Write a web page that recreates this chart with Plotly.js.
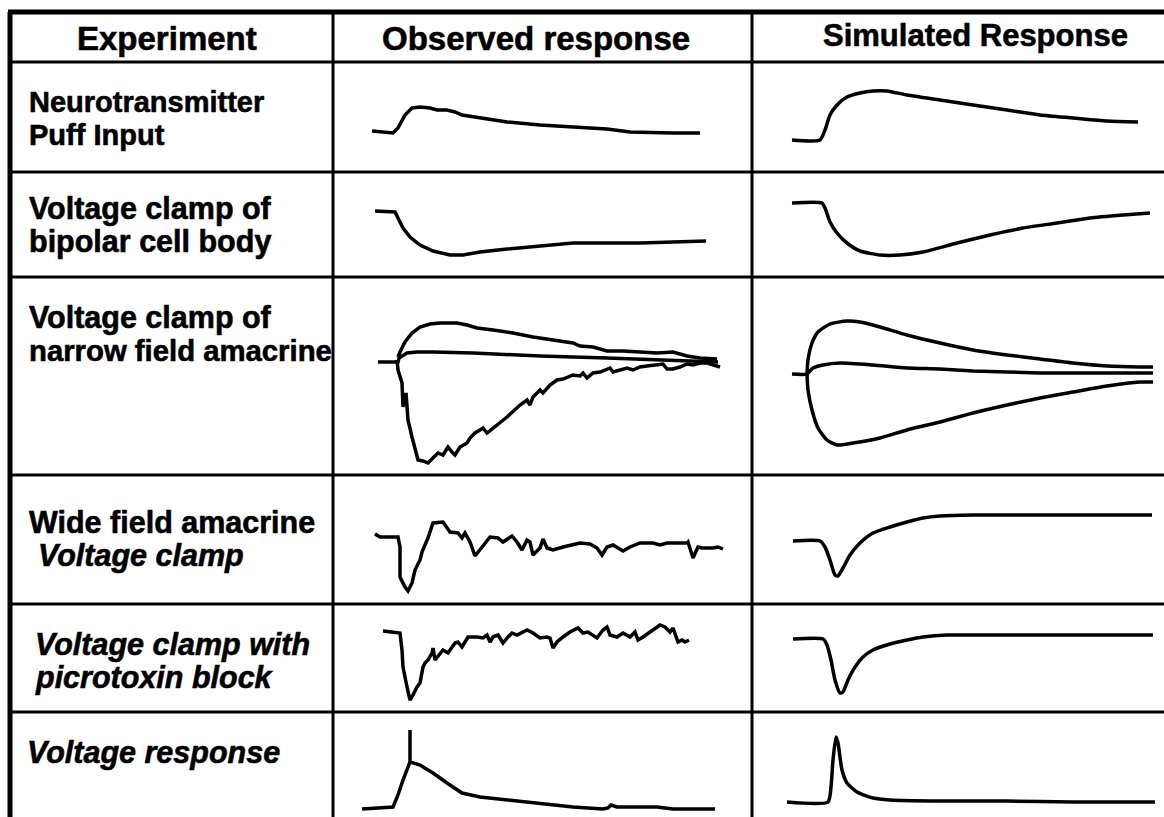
<!DOCTYPE html>
<html>
<head>
<meta charset="utf-8">
<script src="https://cdn.plot.ly/plotly-3.0.1.min.js"></script>
<style>
html,body{margin:0;padding:0;background:#fff;}
#chart{width:1164px;height:817px;}
#chart .annotation-text{stroke:#000;stroke-width:0.6px;}
</style>
</head>
<body>
<div id="chart"></div>
<script>
// ---------- data (time t, response v; local units of each cell) ----------
const headers = ["Experiment", "Observed response", "Simulated Response"];
const experimentLines = [
  ["Neurotransmitter", "Puff Input"],
  ["Voltage clamp of", "bipolar cell body"],
  ["Voltage clamp of", "narrow field amacrine"],
  ["Wide field amacrine", "<i>Voltage clamp</i>"],
  ["<i>Voltage clamp with</i>", "<i>picrotoxin block</i>"],
  ["<i>Voltage response</i>"]
];

// Row 1: Neurotransmitter puff
const t1o = [39,60,65,72,79,87,97,104,114,122,129,147,174,207,240,274,297,320,340,367];
const v1o = [41,39,44,57,64,65,64,62,62,60,57,54,50,47,45,43,40,39,39,39];
const t1s = [40,68,73,78,85,95,108,121,135,155,188,221,255,288,321,355,386];
const v1s = [32,32,42,57,67,75,79,81,81,77,72,67,62,57,54,51,50];

// Row 2: bipolar cell body clamp
const t2o = [42,62,65,70,77,87,100,117,130,147,174,207,240,274,307,340,373];
const v2o = [66,65,59,49,40,32,26,22,22,25,28,31,34,34,34,35,36];
const t2s = [40,70,73,78,85,95,108,128,148,171,205,238,271,305,338,371,398];
const v2s = [74,74,69,55,44,34,26,22,22,25,34,42,49,54,59,62,64];

// Row 3: narrow field amacrine (three holding potentials)
const t3oa = [65,67,72,79,87,97,107,124,134,144,160,180,200,220,240,247,260,274,290,307,324,340,354,367,384];
const v3oa = [118,123,133,142,148,151,152,152,150,147,145,142,138,135,132,129,128,124,124,123,122,123,119,117,116];
const t3ob = [45,65,66,74,84,100,140,207,274,340,385];
const v3ob = [113,113,117,122,123,123,122,119,117,115,113];
const t3oc = [64,65,69,70,73,75,79,82,85,90,95,100,105,110,115,119,122,127,134,137,142,147,150,154,160,174,187,194,197,200,207,210,217,224,230,237,240,247,250,254,260,267,274,277,280,287,294,300,307,314,320,327,330,334,340,347,354,360,367,374,380,387];
const v3oc = [115,105,92,68,82,55,38,25,15,14,12,17,22,20,28,23,20,28,32,37,42,45,47,42,47,58,70,75,70,78,85,82,90,95,96,99,100,99,102,97,102,103,106,107,103,105,107,105,108,109,110,111,111,106,106,108,111,110,112,112,110,108];
const t3sa = [55,56,60,66,78,95,108,128,155,188,221,255,288,321,355,388,401];
const v3sa = [101,115,132,143,151,154,153,148,140,132,125,120,116,112,109,108,108];
const t3sb = [40,55,61,71,88,121,155,188,221,255,288,321,355,401];
const v3sb = [101,101,107,110,112,110,107,106,104,103,102,102,102,102];
const t3sc = [55,56,60,66,75,85,101,128,155,188,221,255,288,321,355,388,401];
const v3sc = [101,85,65,47,35,30,32,37,45,53,62,70,77,83,89,93,93];

// Row 4: wide field amacrine, voltage clamp
const t4o = [42,47,57,65,67,67,72,75,79,82,87,89,95,100,110,117,125,129,132,137,142,149,157,165,170,179,184,189,194,197,200,207,210,214,220,230,240,247,257,264,269,274,280,290,297,307,320,327,334,354,355,360,365,369,374,380,385,390];
const v4o = [70,67,67,67,57,27,17,13,21,34,44,52,66,81,82,72,71,66,71,62,48,57,67,66,62,68,62,54,64,62,49,56,65,56,54,57,59,61,60,56,49,57,59,53,57,61,61,59,61,61,62,46,57,56,56,56,57,55];
const t4s = [41,68,73,78,83,86,91,98,108,121,138,155,171,188,221,255,288,321,355,400];
const v4s = [63,63,57,44,29,28,36,49,61,71,77,82,86,88,89,89,89,89,89,89];

// Row 5: voltage clamp with picrotoxin block
const t5o = [50,62,67,69,70,74,77,80,84,87,90,92,95,99,100,102,107,110,115,119,122,125,129,135,144,150,154,157,160,165,170,175,179,184,189,194,200,207,214,217,220,224,230,237,245,250,255,264,270,274,277,284,290,297,302,305,310,317,327,332,337,340,342,345,349,352,356];
const v5o = [81,80,79,62,45,25,12,17,25,29,45,49,52,59,64,52,59,62,59,65,69,70,65,75,75,74,77,70,75,77,69,75,79,77,80,82,79,74,75,74,64,70,75,80,84,79,80,74,82,85,77,75,79,75,80,72,75,80,87,85,80,84,79,70,72,70,72];
const t5s = [41,71,75,79,83,88,91,96,103,111,121,138,155,171,195,221,255,288,321,355,401];
const v5s = [73,73,67,52,32,19,20,32,45,55,62,68,72,75,77,77,77,77,77,77,77];

// Row 6: voltage response
const t6o = [29,47,60,65,70,77,77,77,87,100,114,129,147,174,207,240,270,275,278,284,307,324,340,382];
const v6o = [8,9,10,22,37,55,87,55,52,44,34,24,20,17,14,10,8,9,12,10,10,10,8,8];
const t6s = [35,76,79,81,84,86,90,95,105,121,138,188,255,321,403];
const v6s = [15,15,30,57,80,74,47,34,25,19,17,16,16,15,15];

// ---------- layout geometry ----------
const W = 1164, H = 817;
const COLS = [333, 752, 1164];               // observed | simulated | right edge
const ROWS = [62, 172, 277, 475, 604, 712, 817];
const TOP = 12, LEFT = 10;

const traces = [];
function addTrace(row, col, t, v, smooth) {
  const k = 2 + row * 2 + col;
  traces.push({
    x: t, y: v, xaxis: 'x' + k, yaxis: 'y' + k, type: 'scatter', mode: 'lines',
    line: smooth ? {color: '#000', width: 3.5, shape: 'spline', smoothing: 0.6}
                 : {color: '#000', width: 3.5, shape: 'linear'},
    hoverinfo: 'skip', showlegend: false
  });
}
addTrace(0, 0, t1o, v1o, false); addTrace(0, 1, t1s, v1s, true);
addTrace(1, 0, t2o, v2o, false); addTrace(1, 1, t2s, v2s, true);
addTrace(2, 0, t3oa, v3oa, false); addTrace(2, 0, t3ob, v3ob, false); addTrace(2, 0, t3oc, v3oc, false);
addTrace(2, 1, t3sa, v3sa, true); addTrace(2, 1, t3sb, v3sb, true); addTrace(2, 1, t3sc, v3sc, true);
addTrace(3, 0, t4o, v4o, false); addTrace(3, 1, t4s, v4s, true);
addTrace(4, 0, t5o, v5o, false); addTrace(4, 1, t5s, v5s, true);
addTrace(5, 0, t6o, v6o, false); addTrace(5, 1, t6s, v6s, true);

const layout = {
  width: W, height: H, margin: {l: 0, r: 0, t: 0, b: 0},
  paper_bgcolor: '#fff', plot_bgcolor: 'rgba(0,0,0,0)', showlegend: false,
  xaxis: {domain: [0, 1], range: [0, W], visible: false, fixedrange: true},
  yaxis: {domain: [0, 1], range: [H, 0], visible: false, fixedrange: true},
  shapes: [], annotations: []
};
for (let r = 0; r < 6; r++) {
  for (let c = 0; c < 2; c++) {
    const k = 2 + r * 2 + c;
    const left = COLS[c], right = COLS[c + 1], top = ROWS[r], bottom = ROWS[r + 1];
    layout['xaxis' + k] = {domain: [left / W, right / W], range: [0, right - left], visible: false, anchor: 'y' + k, fixedrange: true};
    layout['yaxis' + k] = {domain: [1 - bottom / H, 1 - top / H], range: [0, bottom - top], visible: false, anchor: 'x' + k, fixedrange: true};
  }
}

// grid lines
function seg(x0, y0, x1, y1, w) {
  layout.shapes.push({type: 'line', xref: 'x', yref: 'y', x0: x0, y0: y0, x1: x1, y1: y1, line: {color: '#000', width: w}});
}
seg(LEFT - 2, TOP, W, TOP, 5);            // top border
seg(LEFT, TOP, LEFT, H, 5);               // left border
seg(COLS[0], TOP, COLS[0], H, 3);
seg(COLS[1], TOP, COLS[1], H, 3);
for (let i = 0; i < ROWS.length - 1; i++) seg(LEFT, ROWS[i], W, ROWS[i], 3);

// text
const FONT = 'Liberation Sans, Arial, Helvetica, sans-serif';
const headerX = [167, 536, 975], headerY = [38, 38, 35], headerSize = [33, 33, 31];
headers.forEach((h, i) => layout.annotations.push({
  xref: 'x', yref: 'y', x: headerX[i], y: headerY[i], text: '<b>' + h + '</b>', showarrow: false,
  xanchor: 'center', yanchor: 'middle', font: {family: FONT, size: headerSize[i], color: '#000'}
}));
const labelX = [[27, 27], [27, 27], [27, 27], [27, 36], [33, 33], [25]];
const labelY = [[102, 135], [208, 241], [317, 350], [522, 555], [644, 677], [752]];
const labelSize = [[29, 29], [30.5, 30.5], [30.5, 29.3], [30.5, 30.5], [30.5, 30.5], [30.5]];
experimentLines.forEach((lines, r) => lines.forEach((s, j) => layout.annotations.push({
  xref: 'x', yref: 'y', x: labelX[r][j], y: labelY[r][j], text: '<b>' + s + '</b>', showarrow: false,
  xanchor: 'left', yanchor: 'middle', font: {family: FONT, size: labelSize[r][j], color: '#000'}
})));

Plotly.newPlot('chart', traces, layout, {staticPlot: true, displayModeBar: false});
</script>
</body>
</html>
